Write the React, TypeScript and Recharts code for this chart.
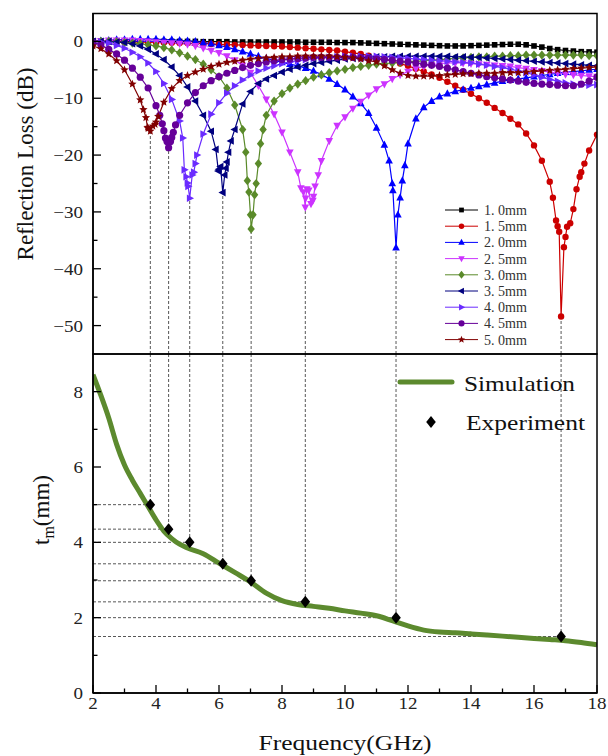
import {
  ComposedChart,
  Line,
  Scatter,
  XAxis,
  YAxis,
  ReferenceLine,
} from "recharts";

const SERIF = "'Liberation Serif', 'Times New Roman', serif";

// shared frequency grid (GHz) for the reflection loss curves
const freq = [
  2, 2.25, 2.5, 2.75, 3, 3.25, 3.5, 3.75,
  4, 4.25, 4.5, 4.75, 5, 5.25, 5.5, 5.75,
  6, 6.25, 6.5, 6.75, 7, 7.25, 7.5, 7.75,
  8, 8.25, 8.5, 8.75, 9, 9.25, 9.5, 9.75,
  10, 10.25, 10.5, 10.75, 11, 11.25, 11.5, 11.75,
  12, 12.25, 12.5, 12.75, 13, 13.25, 13.5, 13.75,
  14, 14.25, 14.5, 14.75, 15, 15.25, 15.5, 15.75,
  16, 16.25, 16.5, 16.75, 17, 17.25, 17.5, 17.75,
  18,
];

// reflection loss (dB) per thickness, on the grid above
const rl10 = [
  0, 0, 0, 0, 0, 0, 0, 0,
  0, 0, 0, 0, 0, 0, -0.05, -0.05,
  -0.05, -0.05, -0.1, -0.1, -0.1, -0.1, -0.1, -0.1,
  -0.1, -0.1, -0.1, -0.15, -0.15, -0.15, -0.15, -0.2,
  -0.2, -0.2, -0.25, -0.3, -0.35, -0.4, -0.45, -0.5,
  -0.55, -0.6, -0.65, -0.7, -0.75, -0.8, -0.8, -0.8,
  -0.75, -0.7, -0.65, -0.6, -0.55, -0.5, -0.5, -0.6,
  -0.8, -1.0, -1.25, -1.45, -1.6, -1.7, -1.8, -1.85,
  -1.9,
];
const rl15 = [
  0, 0, 0, -0.05, -0.1, -0.1, -0.15, -0.15,
  -0.2, -0.2, -0.25, -0.3, -0.3, -0.35, -0.4, -0.45,
  -0.5, -0.55, -0.6, -0.65, -0.7, -0.75, -0.8, -0.85,
  -0.9, -1.0, -1.1, -1.2, -1.3, -1.4, -1.5, -1.6,
  -1.8, -2.0, -2.2, -2.5, -2.8, -3.1, -3.5, -3.9,
  -4.3, -4.8, -5.3, -5.8, -6.4, -7.1, -7.8, -8.5,
  -9.2, -10.0, -10.8, -11.7, -12.6, -13.6, -14.6, -16.2,
  -18.3, -21.0, -24.7, -32.5, -34.4, -29.5, -23.0, -19.2,
  -16.4,
];
const rl20 = [
  0, 0.1, 0.2, 0.3, 0.3, 0.4, 0.4, 0.4,
  0.4, 0.3, 0.3, 0.2, 0.1, 0, -0.2, -0.4,
  -0.7, -1.0, -1.4, -1.8, -2.2, -2.6, -3.0, -3.3,
  -3.7, -4.0, -4.3, -4.7, -5.2, -5.8, -6.6, -7.5,
  -8.5, -9.7, -10.9, -12.6, -15.2, -18.2, -25.0, -27.5,
  -18.0, -13.6, -11.6, -10.5, -9.7, -9.2, -8.8, -8.5,
  -8.2, -7.9, -7.6, -7.3, -7.0, -6.8, -6.6, -6.4,
  -6.2, -6.0, -5.8, -5.6, -5.4, -5.3, -5.2, -5.0,
  -4.9,
];
const rl25 = [
  0, 0.1, 0.2, 0.2, 0.2, 0.2, 0.1, 0,
  -0.1, -0.2, -0.3, -0.4, -0.5, -0.8, -1.2, -1.6,
  -2.0, -2.6, -3.3, -4.2, -5.5, -7.8, -10.2, -12.8,
  -16.0, -19.5, -23.0, -27.6, -27.3, -21.0, -17.5, -14.8,
  -13.3, -11.8, -10.6, -9.5, -8.4, -7.5, -6.6, -5.9,
  -5.3, -4.8, -4.4, -4.1, -3.9, -3.8, -3.8, -3.8,
  -3.9, -4.0, -4.1, -4.2, -4.3, -4.4, -4.6, -4.8,
  -5.0, -5.2, -5.4, -5.6, -5.8, -5.9, -6.0, -6.1,
  -6.2,
];
const rl30 = [
  0, 0, 0, -0.1, -0.2, -0.3, -0.4, -0.6,
  -0.8, -1.1, -1.5, -2.0, -2.6, -3.2, -4.0, -5.0,
  -6.2, -8.2, -11.2, -15.5, -30.5, -21.5, -13.0, -10.5,
  -9.2, -8.2, -7.5, -6.9, -6.3, -5.9, -5.5, -5.2,
  -4.9, -4.6, -4.4, -4.2, -4.0, -3.9, -3.8, -3.7,
  -3.6, -3.5, -3.4, -3.3, -3.2, -3.1, -3.0, -2.9,
  -2.8, -2.7, -2.7, -2.6, -2.6, -2.5, -2.5, -2.4,
  -2.4, -2.4, -2.4, -2.4, -2.4, -2.4, -2.4, -2.5,
  -2.5,
];
const rl35 = [
  0, 0, 0, -0.1, -0.2, -0.4, -0.8, -1.4,
  -2.2, -3.2, -4.5, -6.0, -8.0, -10.5, -13.0, -15.8,
  -22.5, -21.2, -15.5, -11.0, -8.8, -7.4, -6.6, -6.0,
  -5.4, -4.9, -4.5, -4.2, -3.9, -3.7, -3.5, -3.3,
  -3.1, -3.0, -2.9, -2.8, -2.7, -2.7, -2.6, -2.6,
  -2.6, -2.6, -2.6, -2.6, -2.6, -2.6, -2.7, -2.7,
  -2.8, -2.8, -2.9, -3.0, -3.1, -3.2, -3.3, -3.4,
  -3.5, -3.6, -3.7, -3.8, -3.9, -4.0, -4.1, -4.2,
  -4.3,
];
const rl40 = [
  0, -0.1, -0.3, -0.7, -1.2, -1.9, -2.7, -3.8,
  -5.3, -7.4, -10.2, -14.0, -24.9, -21.5, -16.3, -12.8,
  -10.8, -9.1, -7.8, -6.8, -5.9, -5.2, -4.7, -4.3,
  -3.9, -3.6, -3.4, -3.2, -3.0, -2.9, -2.8, -2.7,
  -2.6, -2.6, -2.6, -2.6, -2.6, -2.7, -2.8, -2.9,
  -3.0, -3.1, -3.2, -3.3, -3.4, -3.5, -3.6, -3.7,
  -3.8, -4.0, -4.2, -4.4, -4.6, -4.9, -5.2, -5.5,
  -5.9, -6.3, -6.7, -7.0, -7.3, -7.5, -7.6, -7.7,
  -7.6,
];
const rl45 = [
  -0.2, -0.6, -1.4, -2.2, -3.3, -4.7, -6.3, -8.2,
  -11.3, -15.7, -16.9, -13.0, -10.8, -9.0, -7.8, -6.9,
  -6.2, -5.6, -5.1, -4.6, -4.2, -3.9, -3.6, -3.4,
  -3.2, -3.1, -3.0, -2.9, -2.8, -2.8, -2.8, -2.8,
  -2.8, -2.8, -2.9, -3.0, -3.1, -3.2, -3.3, -3.5,
  -3.6, -3.8, -4.0, -4.2, -4.4, -4.7, -5.0, -5.3,
  -5.6, -5.9, -6.2, -6.4, -6.6, -6.8, -7.0, -7.2,
  -7.4, -7.5, -7.6, -7.7, -7.8, -7.8, -7.5, -7.0,
  -6.3,
];
const rl50 = [
  -0.8, -1.3, -2.2, -3.4, -5.0, -7.5, -10.3, -15.3,
  -14.2, -10.7, -8.3, -6.9, -6.0, -5.4, -4.9, -4.4,
  -4.0, -3.7, -3.5, -3.3, -3.1, -3.0, -2.9, -2.8,
  -2.7, -2.7, -2.6, -2.6, -2.6, -2.6, -2.6, -2.7,
  -2.8, -2.9, -3.1, -3.4, -3.6, -4.3, -5.0, -5.6,
  -6.0, -6.1, -6.1, -6.1, -6.0, -5.9, -5.8, -5.7,
  -5.7, -5.6, -5.6, -5.6, -5.5, -5.5, -5.5, -5.4,
  -5.3, -5.2, -5.1, -5.0, -4.9, -4.8, -4.7, -4.6,
  -4.5,
];

// extra [GHz, dB] points measured around each absorption peak
const dip15: [number, number][] = [
  [16.6, -27.5], [16.7, -31.5], [16.8, -33.5], [16.86, -48.4], [16.95, -36.2],
  [17.05, -32.6], [17.15, -32.0], [17.35, -26.0], [17.45, -23.8], [17.6, -21.5],
];
const dip20: [number, number][] = [
  [11.4, -21.0], [11.52, -26.2], [11.62, -36.3], [11.68, -30.5], [11.82, -24.5], [11.9, -21.8],
];
const dip25: [number, number][] = [
  [8.6, -25.8], [8.68, -26.5], [8.74, -29.2], [8.79, -26.0], [8.85, -26.2],
  [8.92, -28.6], [8.98, -28.0], [9.05, -25.5], [9.15, -23.5],
];
const dip30: [number, number][] = [
  [6.85, -19.5], [6.9, -24.5], [6.95, -26.5], [7.02, -33.0], [7.08, -30.5],
  [7.13, -27.0], [7.18, -25.0], [7.32, -18.0], [7.4, -15.5],
];
const dip35: [number, number][] = [
  [5.9, -19.0], [5.98, -22.8], [6.05, -22.0], [6.12, -26.6], [6.18, -23.5],
  [6.22, -22.3], [6.3, -19.5], [6.38, -17.5],
];
const dip40: [number, number][] = [
  [4.85, -17.0], [4.9, -22.6], [4.96, -23.8], [5.02, -25.5], [5.07, -27.6],
  [5.15, -23.5], [5.2, -23.0], [5.3, -20.0],
];
const dip45: [number, number][] = [
  [4.12, -13.0], [4.2, -14.5], [4.3, -17.0], [4.35, -17.6], [4.4, -18.7],
  [4.46, -17.6], [4.55, -16.0], [4.62, -14.7],
];
const dip50: [number, number][] = [
  [3.6, -12.0], [3.68, -13.4], [3.73, -15.1], [3.82, -15.8], [3.9, -14.9],
  [3.97, -14.6], [4.07, -13.2],
];

const thicknessLabels = [
  "1. 0mm", "1. 5mm", "2. 0mm", "2. 5mm", "3. 0mm",
  "3. 5mm", "4. 0mm", "4. 5mm", "5. 0mm",
];

// simulated matching thickness
const simFreq = [
  2, 2.25, 2.5, 2.75, 3, 3.25, 3.5, 3.75, 4, 4.25, 4.5, 4.75, 5, 5.5, 6, 6.5,
  7, 7.5, 8, 8.5, 9, 9.5, 10, 10.5, 11, 11.5, 12, 12.5, 13, 13.5, 14, 14.5,
  15, 15.5, 16, 16.5, 17, 17.5, 18,
];
const simTm = [
  8.45, 7.9, 7.3, 6.6, 6.05, 5.65, 5.3, 4.95, 4.6, 4.3, 4.1, 3.95, 3.85, 3.7, 3.45, 3.2,
  2.95, 2.65, 2.45, 2.35, 2.3, 2.25, 2.18, 2.12, 2.05, 1.92, 1.78, 1.67, 1.62, 1.6, 1.57, 1.54,
  1.51, 1.48, 1.45, 1.42, 1.39, 1.34, 1.28,
];

// experimental peaks: frequency, thickness, RL at the peak
const expFreq = [3.82, 4.4, 5.07, 6.12, 7.02, 8.74, 11.62, 16.86];
const expTm = [5.0, 4.35, 4.0, 3.43, 2.98, 2.42, 2.0, 1.5];
const expRL = [-15.8, -18.7, -27.6, -26.6, -33.0, -29.2, -36.3, -48.4];

const topTicks = [-50, -45, -40, -35, -30, -25, -20, -15, -10, -5, 0];
const topMajor = [-50, -40, -30, -20, -10, 0];
const tmTicks = [0, 1, 2, 3, 4, 5, 6, 7, 8];
const tmMajor = [0, 2, 4, 6, 8];
const freqTicks = [2, 3, 4, 5, 6, 7, 8, 9, 10, 11, 12, 13, 14, 15, 16, 17, 18];
const freqMajor = [2, 4, 6, 8, 10, 12, 14, 16, 18];

type Shape = "square" | "circle" | "up" | "down" | "diamond" | "left" | "right" | "star";

const seriesStyle: { color: string; shape: Shape; size: number }[] = [
  { color: "#000000", shape: "square", size: 2.8 },
  { color: "#cc0000", shape: "circle", size: 3.2 },
  { color: "#0000ff", shape: "up", size: 3.8 },
  { color: "#cc33ff", shape: "down", size: 3.8 },
  { color: "#5a8a2a", shape: "diamond", size: 3.7 },
  { color: "#00007f", shape: "left", size: 3.8 },
  { color: "#6a2bff", shape: "right", size: 3.8 },
  { color: "#660099", shape: "circle", size: 3.6 },
  { color: "#800000", shape: "star", size: 4.4 },
];

const rlValues = [rl10, rl15, rl20, rl25, rl30, rl35, rl40, rl45, rl50];
const rlExtra = [[], dip15, dip20, dip25, dip30, dip35, dip40, dip45, dip50];

const rlSeries = rlValues.map((vals, i) =>
  [
    ...freq.map((f, j) => ({ f, rl: vals[j] })),
    ...(rlExtra[i] as [number, number][]).map(([f, rl]) => ({ f, rl })),
  ].sort((a, b) => a.f - b.f)
);

const simData = simFreq.map((f, i) => ({ f, tm: simTm[i] }));
const expData = expFreq.map((f, i) => ({ f, tm: expTm[i] }));

function markerPath(shape: Shape, x: number, y: number, s: number) {
  switch (shape) {
    case "square":
      return `M${x - s},${y - s}h${2 * s}v${2 * s}h${-2 * s}Z`;
    case "up":
      return `M${x},${y - s * 1.15}L${x + s},${y + s * 0.75}L${x - s},${y + s * 0.75}Z`;
    case "down":
      return `M${x},${y + s * 1.15}L${x + s},${y - s * 0.75}L${x - s},${y - s * 0.75}Z`;
    case "left":
      return `M${x - s * 1.15},${y}L${x + s * 0.75},${y - s}L${x + s * 0.75},${y + s}Z`;
    case "right":
      return `M${x + s * 1.15},${y}L${x - s * 0.75},${y - s}L${x - s * 0.75},${y + s}Z`;
    case "diamond":
      return `M${x},${y - s * 1.25}L${x + s},${y}L${x},${y + s * 1.25}L${x - s},${y}Z`;
    case "star": {
      let d = "";
      for (let k = 0; k < 10; k++) {
        const r = k % 2 === 0 ? s : s * 0.45;
        const a = -Math.PI / 2 + (k * Math.PI) / 5;
        d += `${k === 0 ? "M" : "L"}${x + r * Math.cos(a)},${y + r * Math.sin(a)}`;
      }
      return d + "Z";
    }
    default:
      return "";
  }
}

function Marker({ shape, x, y, s, color }: { shape: Shape; x: number; y: number; s: number; color: string }) {
  if (shape === "circle") return <circle cx={x} cy={y} r={s} fill={color} />;
  return <path d={markerPath(shape, x, y, s)} fill={color} />;
}

const dotFor = (shape: Shape, color: string, s: number) => (p: any) => {
  if (p.cx == null || p.cy == null) return <g key={`e${p.index}`} />;
  return (
    <g key={`d${p.index}`}>
      <Marker shape={shape} x={p.cx} y={p.cy} s={s} color={color} />
    </g>
  );
};

const fmt = (v: number) => (v < 0 ? `\u2212${-v}` : `${v}`);

function LeftTick(props: any) {
  const { x, y, payload, majors } = props;
  const v = payload.value;
  const major = majors.includes(v);
  const ax = x + 10;
  return (
    <g>
      <line x1={ax} x2={ax + (major ? 8 : 4.5)} y1={y} y2={y} stroke="#000" strokeWidth={1.3} />
      {major && (
        <text
          transform={`translate(${x},${y + 6}) scale(1.12,1)`}
          textAnchor="end"
          fontFamily={SERIF}
          fontSize={17}
          fill="#222"
        >
          {fmt(v)}
        </text>
      )}
    </g>
  );
}

function BottomTick(props: any) {
  const { x, y, payload, majors } = props;
  const v = payload.value;
  const major = majors.includes(v);
  const ay = y - 4;
  return (
    <g>
      <line x1={x} x2={x} y1={ay} y2={ay - (major ? 8 : 4.5)} stroke="#000" strokeWidth={1.3} />
      {major && (
        <text
          transform={`translate(${x},${y + 12}) scale(1.12,1)`}
          textAnchor="middle"
          fontFamily={SERIF}
          fontSize={17}
          fill="#222"
        >
          {v}
        </text>
      )}
    </g>
  );
}

const guide = { stroke: "#444", strokeDasharray: "3 2", strokeWidth: 0.9 };

export default function App() {
  return (
    <div style={{ position: "absolute", left: 0, top: 0, width: 608, height: 756, background: "#fff" }}>
      <div style={{ position: "absolute", left: 0, top: 0 }}>
        <ComposedChart width={608} height={356} margin={{ top: 13, right: 11, bottom: 2, left: 0 }}>
          <XAxis type="number" dataKey="f" domain={[2, 18]} hide allowDataOverflow />
          <YAxis
            type="number"
            domain={[-55, 5]}
            ticks={topTicks}
            interval={0}
            width={93}
            tickSize={0}
            tickMargin={10}
            tickLine={false}
            axisLine={{ stroke: "#000", strokeWidth: 1.5 }}
            tick={(p: any) => <LeftTick {...p} majors={topMajor} />}
            allowDataOverflow
          />
          {expFreq.map((f, i) => (
            <ReferenceLine key={`tv${i}`} segment={[{ x: f, y: -55 }, { x: f, y: expRL[i] }]} {...guide} />
          ))}
          {rlSeries.map((data, i) => (
            <Line
              key={thicknessLabels[i]}
              data={data}
              dataKey="rl"
              type="linear"
              stroke={seriesStyle[i].color}
              strokeWidth={1.2}
              dot={dotFor(seriesStyle[i].shape, seriesStyle[i].color, seriesStyle[i].size)}
              isAnimationActive={false}
            />
          ))}
        </ComposedChart>
      </div>

      <div style={{ position: "absolute", left: 0, top: 354 }}>
        <ComposedChart width={608} height={402} margin={{ top: 0, right: 11, bottom: 0, left: 0 }}>
          <XAxis
            type="number"
            dataKey="f"
            domain={[2, 18]}
            ticks={freqTicks}
            interval={0}
            height={63}
            tickSize={0}
            tickMargin={4}
            tickLine={false}
            axisLine={{ stroke: "#000", strokeWidth: 1.5 }}
            tick={(p: any) => <BottomTick {...p} majors={freqMajor} />}
            allowDataOverflow
          />
          <YAxis
            type="number"
            dataKey="tm"
            domain={[0, 9]}
            ticks={tmTicks}
            interval={0}
            width={93}
            tickSize={0}
            tickMargin={10}
            tickLine={false}
            axisLine={{ stroke: "#000", strokeWidth: 1.5 }}
            tick={(p: any) => <LeftTick {...p} majors={tmMajor} />}
            allowDataOverflow
          />
          {expFreq.map((f, i) => (
            <ReferenceLine key={`bv${i}`} segment={[{ x: f, y: 9 }, { x: f, y: expTm[i] }]} {...guide} />
          ))}
          {expFreq.map((f, i) => (
            <ReferenceLine key={`bh${i}`} segment={[{ x: 2, y: expTm[i] }, { x: f, y: expTm[i] }]} {...guide} />
          ))}
          <Line
            data={simData}
            dataKey="tm"
            type="monotone"
            stroke="#5c8a2e"
            strokeWidth={5}
            dot={false}
            isAnimationActive={false}
          />
          <Scatter
            data={expData}
            dataKey="tm"
            fill="#000"
            isAnimationActive={false}
            shape={(p: any) => <Marker shape="diamond" x={p.cx} y={p.cy} s={4.8} color="#000" />}
          />
        </ComposedChart>
      </div>

      <svg width={608} height={756} style={{ position: "absolute", left: 0, top: 0, pointerEvents: "none" }}>
        <rect x={93} y={13.5} width={504} height={340.5} fill="none" stroke="#000" strokeWidth={1.5} />
        <rect x={93} y={354} width={504} height={339} fill="none" stroke="#000" strokeWidth={1.5} />

        <text transform="translate(33,164) rotate(-90)" textAnchor="middle" fontFamily={SERIF} fontSize={23} fill="#111">
          Reflection Loss (dB)
        </text>
        <text transform="translate(49,510) rotate(-90)" textAnchor="middle" fontFamily={SERIF} fontSize={23} fill="#111">
          t<tspan fontSize={16} dy={5}>m</tspan>
          <tspan dy={-5}>(mm)</tspan>
        </text>
        <text x={345} y={750} textAnchor="middle" fontFamily={SERIF} fontSize={22} fill="#111" textLength={173} lengthAdjust="spacingAndGlyphs">
          Frequency(GHz)
        </text>

        {thicknessLabels.map((label, i) => {
          const y = 210 + i * 16.2;
          const st = seriesStyle[i];
          return (
            <g key={label}>
              <line x1={445} x2={478} y1={y} y2={y} stroke={st.color} strokeWidth={1} />
              <Marker shape={st.shape} x={461.5} y={y} s={st.size * 0.85} color={st.color} />
              <text x={484} y={y + 5} fontFamily={SERIF} fontSize={14} fill="#333" textLength={43} lengthAdjust="spacingAndGlyphs">
                {label}
              </text>
            </g>
          );
        })}

        <line x1={400} x2={452} y1={382} y2={382} stroke="#5c8a2e" strokeWidth={5} strokeLinecap="round" />
        <text x={464} y={391} fontFamily={SERIF} fontSize={22} fill="#111" textLength={111} lengthAdjust="spacingAndGlyphs">
          Simulation
        </text>
        <Marker shape="diamond" x={431} y={422} s={4.8} color="#000" />
        <text x={466} y={430} fontFamily={SERIF} fontSize={22} fill="#111" textLength={119} lengthAdjust="spacingAndGlyphs">
          Experiment
        </text>
      </svg>
    </div>
  );
}
